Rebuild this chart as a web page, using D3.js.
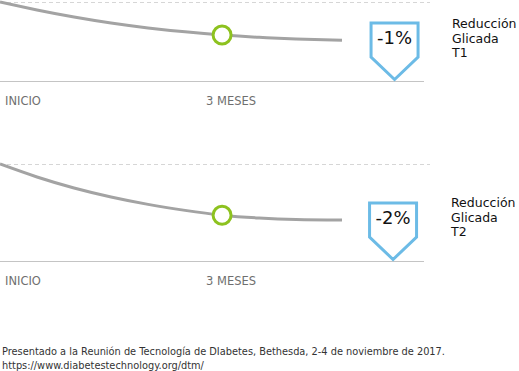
<!DOCTYPE html>
<html>
<head>
<meta charset="utf-8">
<script src="https://cdn.jsdelivr.net/npm/d3@7"></script>
<style>
  html, body { margin: 0; padding: 0; background: #fff; }
  svg { display: block; }
  text { font-family: "DejaVu Sans", sans-serif; }
</style>
</head>
<body>
<svg id="chart" width="519" height="371"></svg>
<script>
// ---- data ----
const months = [0, 0.5, 1, 1.5, 2, 2.5, 3, 3.5, 4, 4.62];
const seriesT1 = [1.0, 0.899, 0.810, 0.734, 0.672, 0.622, 0.582, 0.553, 0.533, 0.515];
const seriesT2 = [1.0, 0.866, 0.753, 0.660, 0.584, 0.522, 0.472, 0.443, 0.428, 0.423];
const tickMonths = [0, 3];
const tickLabels = ["INICIO", "3 MESES"];
const markerMonth = 3;
const calloutMonth = 5.33;
const calloutLabels = ["-1%", "-2%"];
const panelTitles = [["Reducción", "Glicada", "T1"], ["Reducción", "Glicada", "T2"]];
const footer = [
  "Presentado a la Reunión de Tecnología de DIabetes, Bethesda, 2-4 de noviembre de 2017.",
  "https://www.diabetestechnology.org/dtm/"
];

// ---- layout ----
const svg = d3.select("#chart");
const x = d3.scaleLinear().domain([0, 4.62]).range([0, 342]);
const panels = [
  { top: 2, base: 81, values: seriesT1 },
  { top: 164, base: 261, values: seriesT2 }
];

panels.forEach((p, i) => {
  const y = d3.scaleLinear().domain([0, 1]).range([p.base, p.top]);
  const g = svg.append("g");

  // dashed top reference
  g.append("line")
    .attr("x1", 0).attr("x2", 430)
    .attr("y1", y(1) + 0.5).attr("y2", y(1) + 0.5)
    .attr("stroke", "#d6d6d6").attr("stroke-width", 1)
    .attr("stroke-dasharray", "4,3");

  // baseline
  g.append("line")
    .attr("x1", 0).attr("x2", 424)
    .attr("y1", y(0) + 0.5).attr("y2", y(0) + 0.5)
    .attr("stroke", "#c4c4c4").attr("stroke-width", 1);

  // curve
  const pts = months.map((m, k) => [m, p.values[k]]);
  const line = d3.line().x(d => x(d[0])).y(d => y(d[1])).curve(d3.curveNatural);
  g.append("path").datum(pts)
    .attr("d", line)
    .attr("fill", "none")
    .attr("stroke", "#a3a3a3")
    .attr("stroke-width", 3);

  // marker
  const mIdx = months.indexOf(markerMonth);
  g.append("circle")
    .attr("cx", x(markerMonth)).attr("cy", y(p.values[mIdx]))
    .attr("r", 9)
    .attr("fill", "#fff")
    .attr("stroke", "#8dc21f")
    .attr("stroke-width", 3);

  // tick labels
  g.selectAll("text.tick").data(tickMonths).enter().append("text")
    .attr("class", "tick")
    .attr("x", (d, k) => k === 0 ? x(d) + 5 : x(d) + 9)
    .attr("y", y(0) + 24)
    .attr("text-anchor", (d, k) => k === 0 ? "start" : "middle")
    .attr("font-size", 11.5)
    .attr("fill", "#6f6f6f")
    .text((d, k) => tickLabels[k]);

  // callout shield
  const cx = x(calloutMonth) - i * 1.5;
  const hw = 23.5;
  const topY = y(0) - 58, shY = y(0) - 24, tipY = y(0) - 1.5;
  g.append("path")
    .attr("d", `M${cx - hw},${topY}L${cx + hw},${topY}L${cx + hw},${shY}L${cx},${tipY}L${cx - hw},${shY}Z`)
    .attr("fill", "#fff")
    .attr("stroke", "#6cbbe6")
    .attr("stroke-width", 3)
    .attr("stroke-linejoin", "miter");
  g.append("text")
    .attr("x", cx).attr("y", y(0) - 37)
    .attr("text-anchor", "middle")
    .attr("font-size", 18)
    .attr("fill", "#111")
    .text(calloutLabels[i]);

  // panel title
  const tt = g.append("text")
    .attr("x", 452 - i)
    .attr("font-size", 12.5)
    .attr("fill", "#111");
  panelTitles[i].forEach((s, k) => {
    tt.append("tspan").attr("x", 452 - i).attr("y", y(0) - 53 - (i * 1) + k * 14.5).text(s);
  });
});

// footer
svg.selectAll("text.footer").data(footer).enter().append("text")
  .attr("class", "footer")
  .attr("x", 2)
  .attr("y", (d, k) => 355 + k * 13.5)
  .attr("font-size", 9.8)
  .attr("fill", "#333")
  .text(d => d);
</script>
</body>
</html>
